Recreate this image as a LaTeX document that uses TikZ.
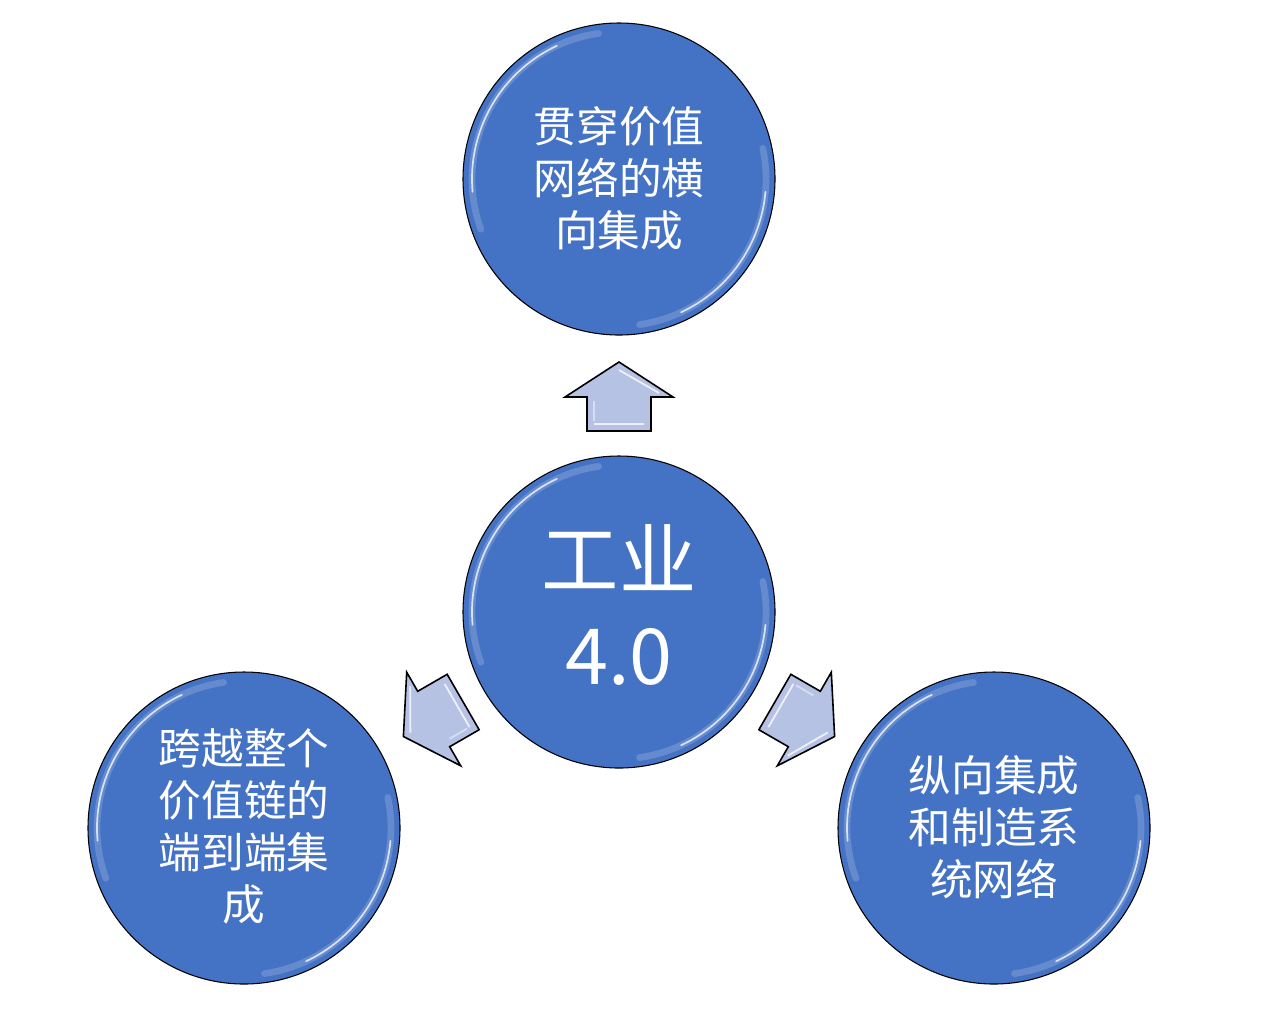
\documentclass[tikz,border=0pt]{standalone}
\usepackage{fontspec}
\setmainfont{Noto Sans CJK SC}
\usepackage{tikz}

\definecolor{hubblue}{RGB}{68,114,196}
\definecolor{arrowlilac}{RGB}{182,194,228}

\tikzset{
  disc/.style={circle, draw=black, line width=0.8pt, fill=hubblue, minimum size=234pt, inner sep=0pt, text=white, align=center, font=\fontsize{32}{39}\selectfont, execute at end node={\rule[-4.5pt]{0pt}{4.5pt}}},
  bigdisc/.style={disc, font=\fontsize{58}{72}\selectfont, execute at end node={\rule[-11pt]{0pt}{11pt}}},
  glowwide/.style={draw=white, line width=5pt, opacity=0.18, line cap=round},
  glowthin/.style={draw=white, line width=1.3pt, opacity=0.75, line cap=round},
  blockarrow/.style={fill=arrowlilac, draw=black, line width=1.2pt, line join=miter},
  arrowshine/.style={draw=white, line width=1.4pt, opacity=0.75},
}

\begin{document}
\begin{tikzpicture}[x=0.75pt,y=0.75pt,yscale=-1,xscale=1]
\path[use as bounding box] (0,0) rectangle (1269,1022);

% Circles
\node[disc] (net) at (619,179) {贯穿价值\\网络的横\\向集成};
\node[bigdisc] (core) at (619,612) {工业\\4.0};
\node[disc] (chain) at (244,828) {跨越整个\\价值链的\\端到端集\\成};
\node[disc] (plant) at (994,828) {纵向集成\\和制造系\\统网络};

% Glossy rims
\foreach \cx/\cy in {619/179, 619/612, 244/828, 994/828} {
  \draw[glowwide] (\cx,\cy) ++(160:147) arc[start angle=160, end angle=262, radius=147];
  \draw[glowthin] (\cx,\cy) ++(175:147) arc[start angle=175, end angle=245, radius=147];
  \draw[glowwide] (\cx,\cy) ++(-12:147) arc[start angle=-12, end angle=82, radius=147];
  \draw[glowthin] (\cx,\cy) ++(5:147) arc[start angle=5, end angle=65, radius=147];
}

% Block arrows
\foreach \ax/\ay/\rot in {619/397/0, 433.7/719/-120, 804.3/719/120} {
  \begin{scope}[shift={(\ax,\ay)}, rotate=\rot]
    \draw[blockarrow] (0,-35) -- (54,0) -- (32,0) -- (32,34) -- (-32,34) -- (-32,0) -- (-54,0) -- cycle;
    \draw[arrowshine] (0,-27) -- (40,-4);
    \draw[arrowshine] (-25,27) -- (25,27);
    \draw[arrowshine, opacity=0.45] (-25,4) -- (-25,24);
  \end{scope}
}

\end{tikzpicture}
\end{document}
